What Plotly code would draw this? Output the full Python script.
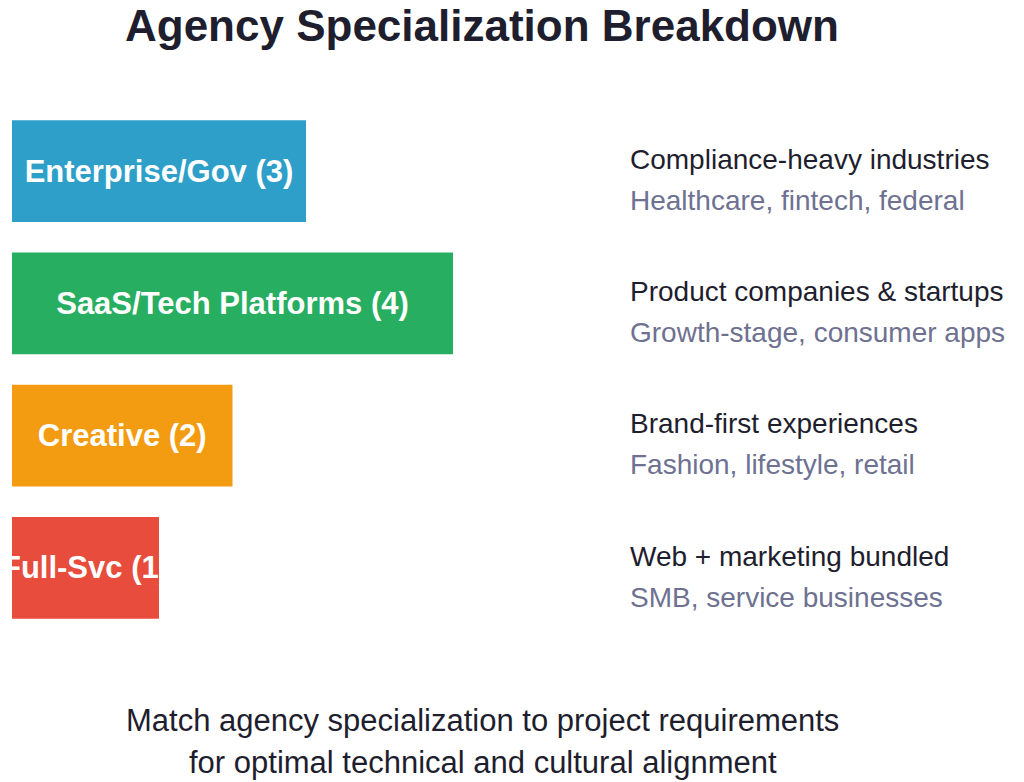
import plotly.graph_objects as go

categories = ["Enterprise/Gov", "SaaS/Tech Platforms", "Creative", "Full-Svc"]
agency_counts = [3, 4, 2, 1]
bar_share = [40, 60, 30, 20]
bar_colors = ["#2D9FC9", "#27AE60", "#F39C12", "#E74C3C"]
focus_titles = ["Compliance-heavy industries", "Product companies & startups",
                "Brand-first experiences", "Web + marketing bundled"]
focus_examples = ["Healthcare, fintech, federal", "Growth-stage, consumer apps",
                  "Fashion, lifestyle, retail", "SMB, service businesses"]
title_text = "Agency Specialization Breakdown"
footer_lines = ["Match agency specialization to project requirements",
                "for optimal technical and cultural alignment"]

W, H = 1024, 782
L, R, T, B = 12, 1024 - 600, 105, 782 - 634
PW, PH = W - L - R, H - T - B

def px(sx):
    return (sx - L) / PW

def py(sy):
    return (H - B - sy) / PH

FONT = "Liberation Sans, Arial, sans-serif"
BAR_FONT = 31

labels = [f"{c} ({n})" for c, n in zip(categories, agency_counts)]

fig = go.Figure(go.Bar(
    x=bar_share, y=categories, orientation="h",
    marker=dict(color=bar_colors, line=dict(width=0)),
    text=labels, textposition="inside", insidetextanchor="middle",
    textfont=dict(family=FONT, size=BAR_FONT, color="white", weight="bold"),
    hoverinfo="skip", cliponaxis=True,
))

annotations = []
row_centers = [171, 303.3, 435.7, 568]
for i, (t1, t2) in enumerate(zip(focus_titles, focus_examples)):
    yc = row_centers[i]
    annotations.append(dict(text=t1, xref="paper", yref="paper", x=px(628), y=py(yc - 12),
                            xanchor="left", yanchor="middle", showarrow=False,
                            font=dict(family=FONT, size=28, color="#1E1E2E")))
    annotations.append(dict(text=t2, xref="paper", yref="paper", x=px(628), y=py(yc + 29),
                            xanchor="left", yanchor="middle", showarrow=False,
                            font=dict(family=FONT, size=28, color="#6E7191")))
for j, line in enumerate(footer_lines):
    annotations.append(dict(text=line, xref="paper", yref="paper", x=px(483), y=py(720 + 43 * j),
                            xanchor="center", yanchor="middle", showarrow=False,
                            font=dict(family=FONT, size=31, color="#1E1E2E")))
annotations.append(dict(text=title_text, xref="paper", yref="paper", x=px(482), y=py(26),
                        xanchor="center", yanchor="middle", showarrow=False,
                        font=dict(family=FONT, size=44, color="#1E1E2E", weight="bold")))

fig.update_layout(
    width=W, height=H,
    margin=dict(l=L, r=R, t=T, b=B, pad=0),
    paper_bgcolor="white", plot_bgcolor="white",
    xaxis=dict(range=[0, 80], visible=False, fixedrange=True),
    yaxis=dict(autorange="reversed", visible=False, fixedrange=True),
    bargap=0.229,
    uniformtext=dict(minsize=BAR_FONT, mode="show"),
    showlegend=False,
    annotations=annotations,
)

fig.write_html("out.html", config={"displayModeBar": False},
               post_script="document.body.style.margin='0';document.body.style.overflow='hidden';")
